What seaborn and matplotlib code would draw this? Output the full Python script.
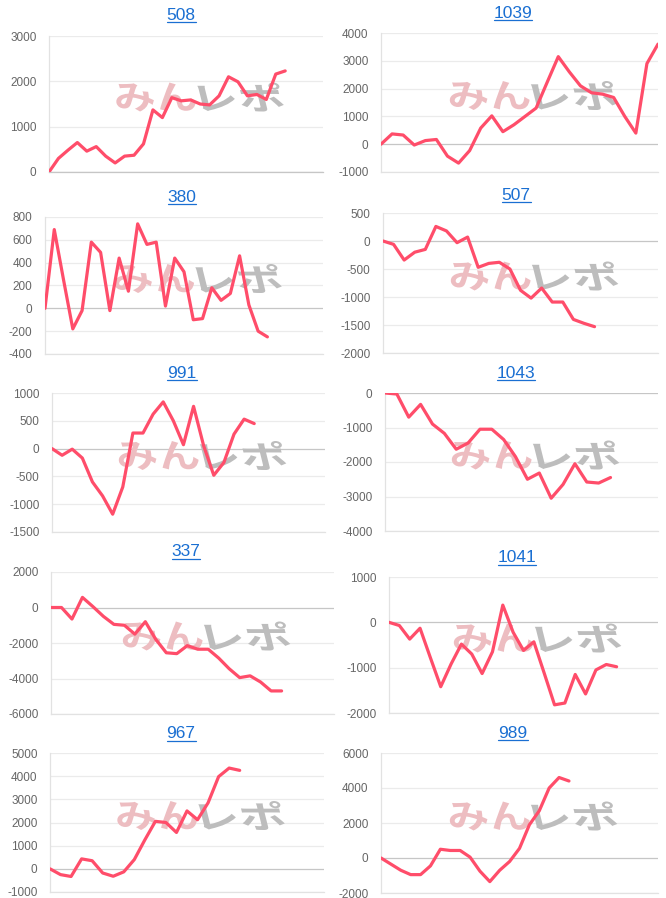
import numpy as np
import pandas as pd
import matplotlib
matplotlib.use("Agg")
import matplotlib.pyplot as plt
import seaborn as sns
from matplotlib.textpath import TextPath
from matplotlib.font_manager import FontProperties
from matplotlib.patches import PathPatch
from matplotlib.transforms import Affine2D, IdentityTransform

# ---------------- data ----------------
titles = ["508", "1039", "380", "507", "991", "1043", "337", "1041", "967", "989"]

v508 = [0, 300, 480, 650, 460, 560, 350, 200, 350, 370, 620, 1370, 1200, 1640, 1570,
        1590, 1500, 1480, 1680, 2100, 1990, 1680, 1710, 1600, 2160, 2230]
v1039 = [0, 370, 330, -30, 130, 170, -430, -680, -230, 580, 1020, 450, 700, 1000, 1300,
         2230, 3150, 2600, 2100, 1850, 1800, 1680, 1000, 400, 2900, 3600]
v380 = [0, 690, 250, -180, -20, 580, 490, -20, 440, 150, 740, 560, 580, 20, 440, 320,
        -100, -90, 180, 70, 130, 460, 30, -200, -250]
v507 = [0, -60, -340, -200, -150, 260, 180, -30, 70, -470, -400, -380, -500, -880, -1020,
        -840, -1090, -1090, -1400, -1470, -1530]
v991 = [0, -120, -10, -170, -600, -850, -1180, -690, 280, 280, 620, 840, 500, 70, 760, 50,
        -480, -250, 260, 530, 450]
v1043 = [0, -30, -700, -330, -900, -1170, -1630, -1450, -1050, -1050, -1350, -1850, -2500,
         -2320, -3050, -2650, -2050, -2580, -2610, -2450]
v337 = [0, 0, -650, 570, 50, -500, -950, -1000, -1500, -800, -1800, -2550, -2600, -2150,
        -2350, -2350, -2850, -3450, -3950, -3850, -4200, -4700, -4700]
v1041 = [0, -70, -370, -130, -780, -1420, -920, -480, -700, -1130, -650, 380, -220, -620,
         -430, -1120, -1820, -1780, -1150, -1580, -1050, -930, -980]
v967 = [0, -250, -330, 430, 350, -180, -320, -130, 400, 1250, 2050, 2000, 1570, 2500, 2120,
        2850, 3980, 4350, 4250]
v989 = [0, -350, -700, -950, -950, -450, 500, 430, 430, 50, -750, -1350, -700, -200, 550,
        1900, 2700, 4000, 4600, 4400]

n_days = [30, 26, 31, 27, 28, 24, 28, 27, 27, 29]

ticks508 = [0, 1000, 2000, 3000]
ticks1039 = [-1000, 0, 1000, 2000, 3000, 4000]
ticks380 = [-400, -200, 0, 200, 400, 600, 800]
ticks507 = [-2000, -1500, -1000, -500, 0, 500]
ticks991 = [-1500, -1000, -500, 0, 500, 1000]
ticks1043 = [-4000, -3000, -2000, -1000, 0]
ticks337 = [-6000, -4000, -2000, 0, 2000]
ticks1041 = [-2000, -1000, 0, 1000]
ticks967 = [-1000, 0, 1000, 2000, 3000, 4000, 5000]
ticks989 = [-2000, 0, 2000, 4000, 6000]

series = [v508, v1039, v380, v507, v991, v1043, v337, v1041, v967, v989]
tick_sets = [ticks508, ticks1039, ticks380, ticks507, ticks991, ticks1043,
             ticks337, ticks1041, ticks967, ticks989]

logo_left = "みん"
logo_right = "レポ"

# ---------------- layout (pixels) ----------------
W, H = 666, 898
boxes = [(49, 323, 36, 172), (381, 658, 33, 172),
         (45, 323, 217, 354), (383, 658, 213, 353),
         (52, 325, 393, 532), (385, 658, 393, 531),
         (51, 334, 572, 714), (389, 658, 577, 713),
         (50, 324, 753, 892), (381, 658, 753, 893)]
title_pos = [(181, 15), (513, 13), (182, 197), (516, 195), (182, 374),
             (516, 373), (186, 552), (517, 558), (181, 734), (513, 733)]

sns.set_style("white")
plt.rcParams["font.family"] = ["Liberation Sans", "DejaVu Sans"]

fig = plt.figure(figsize=(W / 100, H / 100), dpi=100)
fig.patch.set_facecolor("white")

LINE = "#ff4d6a"
GRID = "#ebebeb"
ZERO = "#c6c6c6"
AXIS = "#e2e2e2"
TICK = "#666666"
TITLE = "#1a6fd2"

logo_fp = FontProperties(family="Noto Sans CJK JP", weight="bold")
pathL = TextPath((0, 0), logo_left, size=40, prop=logo_fp)
pathR = TextPath((0, 0), logo_right, size=40, prop=logo_fp)


def place_logo(ax, path, x_anchor, y_center, align, color, width_px, height_px):
    ext = path.get_extents()
    sx = width_px / ext.width
    sy = height_px / ext.height
    tr = Affine2D().translate(-(ext.x0 if align == "left" else ext.x1),
                              -(ext.y0 + ext.y1) / 2)
    tr = tr.scale(sx, sy).skew_deg(-14, 0).translate(x_anchor, H - y_center)
    p = tr.transform_path(path)
    patch = PathPatch(p, facecolor=color, edgecolor="none", transform=IdentityTransform(),
                      zorder=1, clip_on=False)
    ax.add_patch(patch)


title_texts = []
for i, (vals, ticks, nd) in enumerate(zip(series, tick_sets, n_days)):
    l, r, t, b = boxes[i]
    ax = fig.add_axes([l / W, 1 - b / H, (r - l) / W, (b - t) / H])
    df = pd.DataFrame({"day": np.arange(len(vals)), "value": vals})
    for tk in ticks:
        ax.axhline(tk, color=ZERO if tk == 0 else GRID, lw=0.9, zorder=0.5)
    # watermark
    cx = (l + r) / 2 + 11
    cy = (t + b) / 2 - 7
    place_logo(ax, pathL, cx - 2, cy, "right", "#edbdc1", 80, 29)
    place_logo(ax, pathR, cx + 3, cy, "left", "#bdbdbd", 82, 29)
    sns.lineplot(data=df, x="day", y="value", ax=ax, color=LINE, linewidth=2.3, zorder=3)
    ax.set_xlim(0, nd - 1)
    ax.set_ylim(ticks[0], ticks[-1])
    ax.set_yticks(ticks)
    ax.set_yticklabels([str(tk) for tk in ticks])
    ax.set_xticks([])
    ax.set_xlabel("")
    ax.set_ylabel("")
    ax.tick_params(axis="y", length=3, color=GRID, labelcolor=TICK, labelsize=8.5, pad=6)
    for s in ["top", "right"]:
        ax.spines[s].set_visible(False)
    ax.spines["left"].set_color(AXIS)
    ax.spines["bottom"].set_color(ZERO if ticks[0] == 0 else AXIS)
    ax.spines["left"].set_linewidth(0.9)
    ax.spines["bottom"].set_linewidth(0.9)
    ax.set_facecolor("none")
    tx, ty = title_pos[i]
    tt = fig.text(tx / W, 1 - ty / H, titles[i], ha="center", va="center",
                  fontsize=12.5, color=TITLE)
    title_texts.append(tt)

fig.canvas.draw()
renderer = fig.canvas.get_renderer()
for tt in title_texts:
    bb = tt.get_window_extent(renderer)
    y = bb.y0 + 1.0
    fig.add_artist(plt.Line2D([bb.x0 / W, bb.x1 / W], [y / H, y / H],
                              transform=fig.transFigure, color=TITLE, lw=0.9))

fig.savefig("out.png", dpi=100, facecolor="white")
